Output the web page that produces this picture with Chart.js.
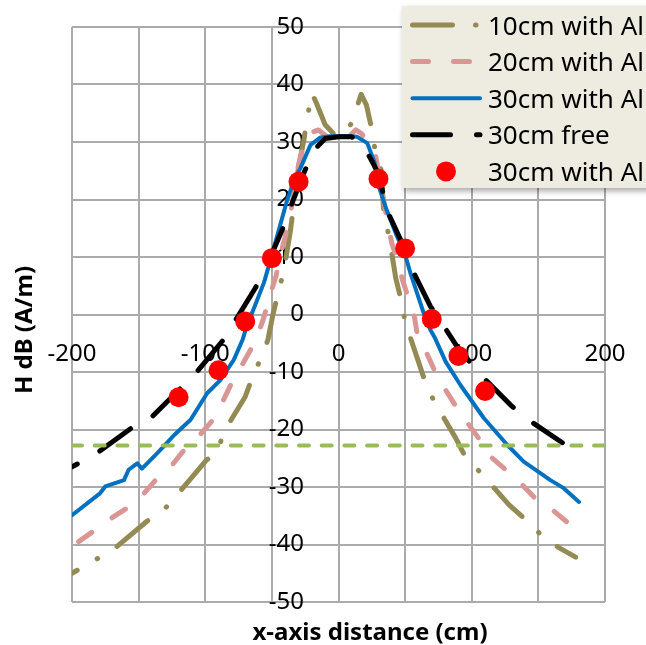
<!DOCTYPE html>
<html>
<head>
<meta charset="utf-8">
<script src="https://cdn.jsdelivr.net/npm/chart.js@4.4.1/dist/chart.umd.min.js"></script>
<style>
  html, body { margin: 0; padding: 0; background: #fff; }
  #wrap { width: 646px; height: 645px; }
</style>
</head>
<body>
<div id="wrap"><canvas id="c" width="646" height="645"></canvas></div>
<script>
// distance (cm) / H (dB A/m)
const x10 = [-200,-182,-168,-144,-130,-119,-99,-91,-86,-70,-64,-56,-53,-49,-45,-41,-36,-30,-26,-24,-20,-17,-10,-4,0,4,10,17,21,25,27,32,34,38,43,47,50,60,65,72,88,95,107,128,140,152,165,178];
const h10 = [-45,-42.6,-40.7,-36,-33.7,-30.8,-25.3,-24,-20.4,-14.3,-10.5,-6.5,-4.4,0.2,4,7.7,14.7,25.7,30.3,33.5,38.5,37,33,31.5,31,31.5,33.3,38.3,36.4,32.2,29.2,25.1,17.6,13.5,6.3,2.5,-1.3,-8.2,-11.7,-15.2,-21.5,-24.7,-27.6,-33.1,-35.6,-38.3,-40.5,-42.2];

const x20 = [-195,-181,-169,-157,-146,-135,-125,-117,-105,-94,-87,-81,-62,-56,-51,-47,-42,-40,-36,-30,-26,-22,-15,-8,0,8,13,17,23,28,33,38,40,45,48,53,57,59,64,73,79,89,97,107,114,127,137,149,159,171,180];
const h20 = [-39.5,-37.2,-35.2,-33.4,-31.1,-28.2,-26.2,-23.9,-21.2,-18.3,-15.2,-12.3,-4.5,-0.5,3.7,6.6,11.8,13.5,17.6,26,29.5,31.5,32.1,30.8,30.5,31,32.1,31.5,29.8,27.4,21,14.7,12.4,8.9,6,2.5,-0.4,-3.3,-5.6,-10.2,-12.6,-16.3,-18.9,-22.1,-24.7,-27.3,-29.4,-32.3,-33.7,-36,-37.5];

const x30 = [-200,-179,-175,-161,-157.5,-151,-147.5,-136,-131,-123.5,-111,-98.6,-88.7,-78.6,-72,-68.6,-63.6,-56,-51,-44.8,-38.5,-33.6,-28.5,-21,-13.5,-6,0,6,14,21.6,27,29.5,35.3,44,49,54,64,69,72,80.4,91.6,109,126.7,139,159,169,180.5];
const h30 = [-34.9,-31.1,-29.9,-28.8,-27,-25.9,-26.8,-24.1,-22.9,-21,-18.3,-13.7,-11.4,-7.9,-4.4,-1.8,1,5.5,9.5,14.7,19.9,23.2,25.5,29.5,30.8,31,31,31,30.9,29.8,26.5,22.8,18.7,13.5,11.2,7.2,0.2,-2.7,-3.9,-8.2,-12.3,-18,-22.7,-25.6,-28.8,-30.2,-32.6];

const xFree = [-200,-192,-180,-154,-140,-117.5,-106,-87.4,-78.6,-62.4,-54.8,-42.3,-36,-26,-18.5,-10,0,10,19,30,36.6,46.6,56.6,69,79,89,106.7,129,140.5,168];
const hFree = [-26.5,-25.5,-23.9,-19.5,-17.8,-12.6,-9.9,-4.7,-1.5,4.6,8,14.7,18.7,24.6,28.6,30.6,30.9,30.9,29.3,24.5,18,13,7.2,1.4,-2,-5.6,-10.5,-15.7,-18,-22.3];

const xMeas = [-120,-90,-70,-50,-30,30,50,70,90,110];
const hMeas = [-14.4,-9.7,-1.2,9.8,23.1,23.6,11.5,-0.8,-7.2,-13.3];

const xLimit = [-200, 200];
const hLimit = [-22.8, -22.8];

const FONT = '"Noto Sans", "Open Sans", sans-serif';
const GRID = '#ababab';

const pts = (xs, ys) => xs.map((x, i) => ({ x, y: ys[i] }));

function lineSet(label, xs, ys, color, width, dash, dashOffset, order) {
  return {
    label, data: pts(xs, ys), showLine: true,
    borderColor: color, backgroundColor: color, borderWidth: width,
    borderDash: dash, borderDashOffset: dashOffset,
    borderCapStyle: 'round', borderJoinStyle: 'round',
    pointRadius: 0, tension: 0, fill: false, order,
  };
}

// centred axes must not eat layout space
function noSpace(s) {
  if (s.isHorizontal()) s.height = 0; else s.width = 0;
  s.paddingLeft = s.paddingRight = s.paddingTop = s.paddingBottom = 0;
}

// hand drawn legend + axis titles, excel style
const decor = {
  id: 'decor',
  afterDraw(chart) {
    const ctx = chart.ctx;
    ctx.save();
    ctx.shadowColor = 'rgba(0,0,0,0.35)';
    ctx.shadowBlur = 6;
    ctx.shadowOffsetX = 2;
    ctx.shadowOffsetY = 3;
    ctx.fillStyle = '#EEECE1';
    ctx.fillRect(402, 6, 260, 182);
    ctx.restore();

    ctx.save();
    ctx.font = '26px ' + FONT;
    ctx.textBaseline = 'alphabetic';
    ctx.textAlign = 'left';
    chart.data.datasets.filter((d) => d.label).forEach((ds, i) => {
      const cy = 25 + i * 36.6;
      if (ds.showLine) {
        ctx.beginPath();
        ctx.strokeStyle = ds.borderColor;
        ctx.lineWidth = ds.borderWidth;
        ctx.lineCap = 'round';
        ctx.setLineDash(ds.borderDash || []);
        ctx.moveTo(412.5, cy);
        ctx.lineTo(480, cy);
        ctx.stroke();
        ctx.setLineDash([]);
      } else {
        ctx.beginPath();
        ctx.fillStyle = ds.pointBackgroundColor;
        ctx.arc(446, cy, ds.pointRadius, 0, Math.PI * 2);
        ctx.fill();
      }
      ctx.fillStyle = '#000';
      ctx.fillText(ds.label, 488, cy + 9.5);
    });
    ctx.restore();

    ctx.save();
    ctx.fillStyle = '#000';
    ctx.font = 'bold 24px ' + FONT;
    ctx.textAlign = 'center';
    ctx.textBaseline = 'alphabetic';
    ctx.fillText('x-axis distance (cm)', 370, 640);
    ctx.translate(32, 330);
    ctx.rotate(-Math.PI / 2);
    ctx.fillText('H dB (A/m)', 0, 0);
    ctx.restore();
  },
};

new Chart(document.getElementById('c'), {
  type: 'scatter',
  data: {
    datasets: [
      lineSet('10cm with Al', x10, h10, '#948A54', 5, [40, 23, 0.5, 23], 34, 6),
      lineSet('20cm with Al', x20, h20, '#D99694', 5, [16, 25], 0, 5),
      lineSet('30cm with Al', x30, h30, '#0070C0', 4, [], 0, 4),
      lineSet('30cm free', xFree, hFree, '#000000', 5, [38, 26], 32, 3),
      {
        label: '30cm with Al', data: pts(xMeas, hMeas), showLine: false,
        pointRadius: 10, pointBackgroundColor: '#FF0000', pointBorderWidth: 0,
        pointBorderColor: '#FF0000', order: 0,
      },
      lineSet('', xLimit, hLimit, '#9BBB59', 4, [10, 12.7], 0, 1),
    ],
  },
  options: {
    responsive: false,
    animation: false,
    devicePixelRatio: 1,
    layout: { padding: { left: 72, top: 27, right: 41, bottom: 43 } },
    plugins: { legend: { display: false }, tooltip: { enabled: false }, title: { display: false } },
    scales: {
      x: {
        type: 'linear', min: -200, max: 200,
        position: { y: 0 },
        afterFit: noSpace,
        grid: { color: GRID, lineWidth: 2, drawTicks: false },
        border: { color: GRID, width: 2 },
        ticks: {
          stepSize: 50, padding: 25, autoSkip: false, maxRotation: 0,
          color: '#000', font: { family: FONT, size: 24 },
          callback: (v) => (v % 100 === 0 ? v : ''),
        },
      },
      y: {
        type: 'linear', min: -50, max: 50,
        // labels sit right-aligned on this line, excel keeps them ~35px off the x=0 line
        position: { x: -26 },
        afterFit: noSpace,
        grid: { color: GRID, lineWidth: 2, drawTicks: false },
        border: { display: false },
        ticks: { stepSize: 10, color: '#000', font: { family: FONT, size: 24 } },
      },
    },
  },
  plugins: [decor],
});
</script>
</body>
</html>
